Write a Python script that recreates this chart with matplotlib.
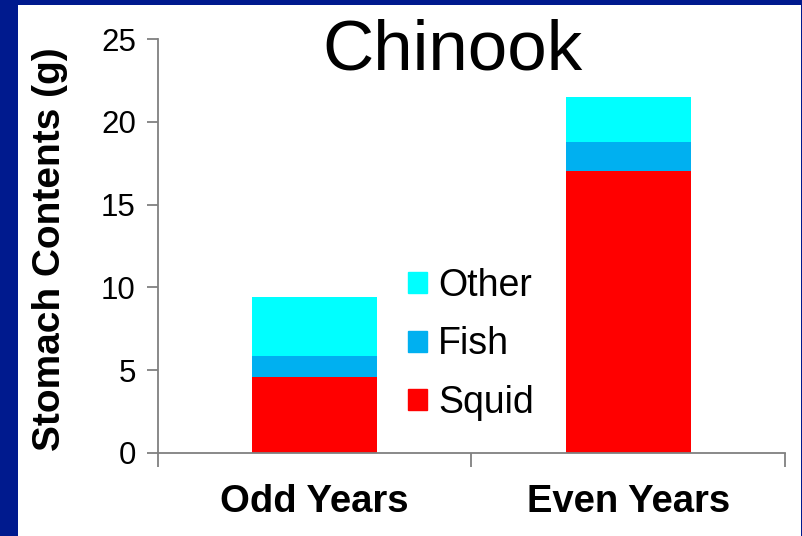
import numpy as np
import matplotlib
matplotlib.use('Agg')
import matplotlib.pyplot as plt
from matplotlib.patches import Rectangle, Patch

plt.rcParams['font.family'] = ['Liberation Sans', 'DejaVu Sans']

categories = ['Odd Years', 'Even Years']
squid = [4.6, 17.0]
fish = [1.25, 1.8]
other = [3.6, 2.7]

col_squid = '#ff0000'
col_fish = '#00b0f0'
col_other = '#00ffff'

fig = plt.figure(figsize=(8.03, 5.36), dpi=100)
fig.patch.set_facecolor('#001a8e')
# white slide area inside the blue border
fig.patches.append(Rectangle((18 / 803, 0), 783 / 803, 531 / 536,
                             transform=fig.transFigure, facecolor='white',
                             edgecolor='none', zorder=-5))

ax = fig.add_axes([158 / 803, 83 / 536, 627 / 803, 414 / 536])
ax.set_facecolor('none')

x = np.array([0.5, 1.5])
w = 0.4
b1 = np.array(squid)
b2 = b1 + np.array(fish)
ax.bar(x, squid, w, color=col_squid, label='Squid', zorder=2)
ax.bar(x, fish, w, bottom=b1, color=col_fish, label='Fish', zorder=2)
ax.bar(x, other, w, bottom=b2, color=col_other, label='Other', zorder=2)

ax.set_xlim(0, 2)
ax.set_ylim(0, 25)
ax.set_yticks([0, 5, 10, 15, 20, 25])
ax.tick_params(axis='y', labelsize=22.5, length=8, width=1.3, color='#808080', pad=8)
ax.set_xticks([0, 1, 2])
ax.set_xticklabels([])
ax.tick_params(axis='x', which='major', length=10, width=1.3, color='#808080')
ax.set_xticks(x, minor=True)
ax.set_xticklabels(categories, minor=True, fontsize=27.5, fontweight='bold')
ax.tick_params(axis='x', which='minor', length=0, pad=22)

for s in ['top', 'right']:
    ax.spines[s].set_visible(False)
for s in ['left', 'bottom']:
    ax.spines[s].set_color('#808080')
    ax.spines[s].set_linewidth(1.3)

fig.text(50 / 803, (536 - 249) / 536, 'Stomach Contents (g)', rotation=90,
         ha='center', va='center', fontsize=28, fontweight='bold')
fig.text(452 / 803, (536 - 52) / 536, 'Chinook', ha='center', va='center',
         fontsize=51)

handles = [Patch(color=col_other, label='Other'),
           Patch(color=col_fish, label='Fish'),
           Patch(color=col_squid, label='Squid')]
ax.legend(handles=handles, loc='upper left', frameon=False,
          bbox_to_anchor=(408 / 803, (536 - 268) / 536),
          bbox_transform=fig.transFigure, fontsize=27,
          handlelength=0.5, handleheight=0.5, handletextpad=0.3,
          labelspacing=0.6, borderpad=0, borderaxespad=0)

fig.savefig('out.png', dpi=100, facecolor=fig.get_facecolor())
